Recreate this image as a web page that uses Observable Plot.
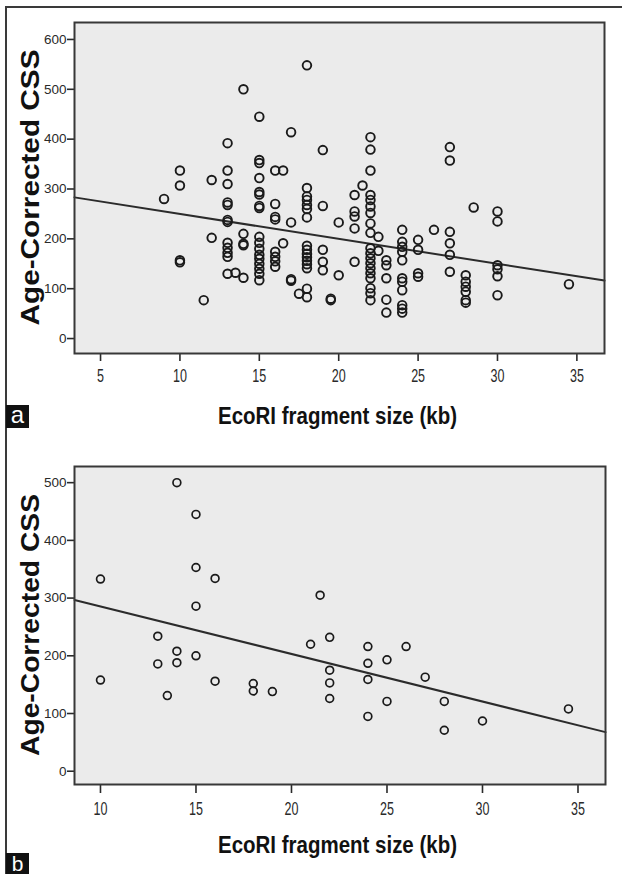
<!DOCTYPE html>
<html>
<head>
<meta charset="utf-8">
<script src="https://cdn.jsdelivr.net/npm/d3@7"></script>
<script src="https://cdn.jsdelivr.net/npm/@observablehq/plot@0.6"></script>
<style>
  html, body { margin: 0; padding: 0; background: #fff; }
  #fig { position: relative; width: 622px; height: 874px; overflow: hidden; background: #fff; }
  .panel { position: absolute; left: 0; }
  .border-top { position: absolute; left: 6px; top: 6px; width: 616px; height: 0; border-top: 2px solid #3a3a3a; }
  .border-left { position: absolute; left: 5px; top: 6px; width: 0; height: 868px; border-left: 2px solid #3a3a3a; }
  .tag { position: absolute; left: 6px; width: 23px; height: 23px; background: #111; color: #fff;
         font: 24px "Liberation Sans", Arial, sans-serif; line-height: 20px; text-align: center; }
  #tagB { height: 21px; font-size: 21px; line-height: 21px; }
</style>
</head>
<body>
<div id="fig">
  <div class="border-top"></div>
  <div class="border-left"></div>
  <div id="panelA" class="panel" style="top:0px"></div>
  <div id="panelB" class="panel" style="top:440px"></div>
  <div class="tag" id="tagA" style="top:405px"></div>
  <div class="tag" id="tagB" style="top:853px"></div>
</div>
<script>
// ---------- data ----------
const xTitle = "EcoRI fragment size (kb)";
const yTitle = "Age-Corrected CSS";
const panelTags = ["a", "b"];

// Panel a: fragment sizes (kb) and the CSS values observed at each size
const aSizes = [9, 10, 11.5, 12, 13, 13.5, 14, 15, 16, 16.5, 17, 17.5, 18, 19, 19.5, 20, 21, 21.5, 22, 22.5, 23, 24, 25, 26, 27, 28, 28.5, 30, 34.5];
const aCss = [
  [280],
  [337, 307, 157, 153],
  [77],
  [318, 202],
  [392, 337, 310, 273, 268, 238, 234, 192, 182, 172, 164, 130],
  [132],
  [500, 210, 190, 187, 122],
  [445, 358, 352, 322, 294, 289, 266, 262, 204, 192, 180, 168, 160, 150, 140, 130, 117],
  [337, 270, 244, 239, 174, 164, 155, 144],
  [337, 191],
  [414, 233, 119, 116],
  [90],
  [548, 302, 285, 278, 268, 260, 243, 186, 178, 170, 163, 156, 149, 141, 100, 83],
  [378, 266, 178, 154, 137],
  [80, 77],
  [233, 127],
  [288, 255, 245, 221, 154],
  [307],
  [404, 379, 337, 288, 278, 265, 252, 231, 212, 181, 171, 161, 151, 141, 131, 121, 101, 91, 77],
  [204, 176],
  [157, 147, 121, 78, 52],
  [218, 194, 184, 174, 157, 121, 114, 97, 67, 60, 52],
  [198, 178, 131, 124],
  [218],
  [384, 357, 214, 191, 168, 134],
  [127, 114, 104, 94, 77, 72],
  [263],
  [255, 235, 147, 139, 125, 87],
  [109]
];

// Panel b
const bSizes = [10, 13, 13.5, 14, 15, 16, 18, 19, 21, 21.5, 22, 24, 25, 26, 27, 28, 30, 34.5];
const bCss = [
  [333, 158],
  [234, 186],
  [131],
  [500, 208, 188],
  [445, 353, 286, 200],
  [334, 156],
  [152, 139],
  [138],
  [220],
  [305],
  [232, 175, 153, 126],
  [216, 187, 159, 95],
  [193, 121],
  [216],
  [163],
  [121, 71],
  [87],
  [108]
];

// fit lines (intercept, slope)
const fitIntercepts = [300, 368];
const fitSlopes = [-5.0, -8.24];

// tick labels
const aXTicks = [5, 10, 15, 20, 25, 30, 35];
const aYTicks = [0, 100, 200, 300, 400, 500, 600];
const bXTicks = [10, 15, 20, 25, 30, 35];
const bYTicks = [0, 100, 200, 300, 400, 500];

// ---------- drawing ----------
const FONT = "'Liberation Sans', Arial, Helvetica, sans-serif";

function makePanel(cfg) {
  const points = cfg.sizes.flatMap((s, i) => cfg.css[i].map(v => ({size: s, css: v})));
  const fit = cfg.xDomain.map(x => ({size: x, css: cfg.intercept + cfg.slope * x}));
  const svg = Plot.plot({
    width: 622,
    height: cfg.height,
    marginLeft: 74,
    marginRight: cfg.marginRight,
    marginTop: cfg.marginTop,
    marginBottom: cfg.marginBottom,
    x: {domain: cfg.xDomain},
    y: {domain: cfg.yDomain},
    style: {background: "transparent", color: "#2a2a2a", fontFamily: FONT, overflow: "visible"},
    marks: [
      Plot.frame({fill: "#ebebeb"}),
      Plot.axisY({ticks: cfg.yTicks, tickSize: 7, tickPadding: 1, fontSize: 13.5, strokeWidth: 1.6, label: null, tickFormat: d => String(d)}),
      Plot.axisX({ticks: cfg.xTicks, tickSize: cfg.xTickSize, tickPadding: cfg.xTickPadding, fontSize: 19, strokeWidth: 1.6, label: null, tickFormat: d => String(d)}),
      Plot.line(fit, {x: "size", y: "css", stroke: "#2b2b2b", strokeWidth: 2}),
      Plot.dot(points, {x: "size", y: "css", r: cfg.r, stroke: "#1a1a1a", strokeWidth: cfg.sw, fill: "none"}),
      Plot.frame({stroke: "#383838", strokeWidth: 2})
    ]
  });
  const s = d3.select(svg);
  // condensed x tick labels
  s.selectAll('g[aria-label="x-axis tick label"] text').each(function() {
    const t = this.getAttribute("transform") || "";
    this.setAttribute("transform", t + " scale(0.66,1)");
  });
  // axis titles
  s.append("text")
    .attr("x", 337.5).attr("y", cfg.xTitleY)
    .attr("text-anchor", "middle")
    .attr("font-family", FONT).attr("font-weight", "bold").attr("font-size", 24)
    .attr("fill", "#111")
    .attr("textLength", 239).attr("lengthAdjust", "spacingAndGlyphs")
    .text(xTitle);
  s.append("text")
    .attr("transform", `translate(39,${cfg.yTitleY}) rotate(-90)`)
    .attr("text-anchor", "middle")
    .attr("font-family", FONT).attr("font-weight", "bold").attr("font-size", 25)
    .attr("fill", "#111")
    .attr("textLength", cfg.yTitleLen).attr("lengthAdjust", "spacingAndGlyphs")
    .text(yTitle);
  return svg;
}

document.getElementById("panelA").appendChild(makePanel({
  sizes: aSizes, css: aCss, xTicks: aXTicks, yTicks: aYTicks,
  xDomain: [3.36, 36.74], yDomain: [-30, 634],
  intercept: fitIntercepts[0], slope: fitSlopes[0],
  height: 440, marginTop: 22, marginBottom: 87, marginRight: 18,
  xTickSize: 8, xTickPadding: 7,
  r: 4.3, sw: 1.9, xTitleY: 424, yTitleY: 187.5, yTitleLen: 276
}));

document.getElementById("panelB").appendChild(makePanel({
  sizes: bSizes, css: bCss, xTicks: bXTicks, yTicks: bYTicks,
  xDomain: [8.64, 36.44], yDomain: [-23, 528],
  intercept: fitIntercepts[1], slope: fitSlopes[1],
  height: 434, marginTop: 26, marginBottom: 90, marginRight: 17,
  xTickSize: 9, xTickPadding: 8,
  r: 3.9, sw: 1.7, xTitleY: 413, yTitleY: 185, yTitleLen: 262
}));

document.getElementById("tagA").textContent = panelTags[0];
document.getElementById("tagB").textContent = panelTags[1];
</script>
</body>
</html>
